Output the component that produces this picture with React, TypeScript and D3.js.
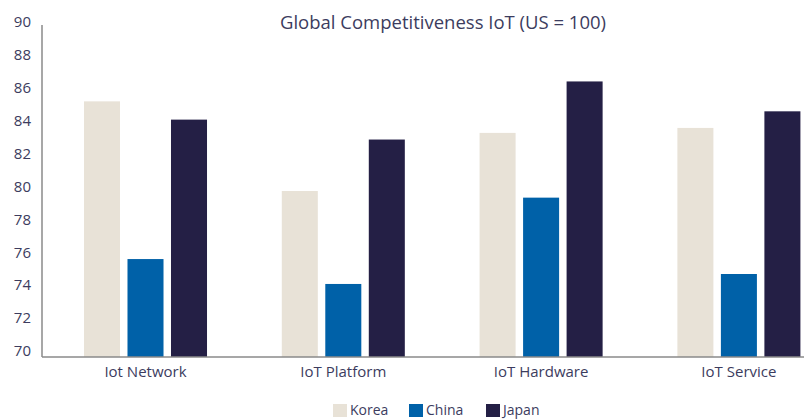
import React from "react";
import * as d3 from "d3";

const categories = ["Iot Network", "IoT Platform", "IoT Hardware", "IoT Service"];
const seriesNames = ["Korea", "China", "Japan"];
const korea = [85.4, 80.0, 83.5, 83.8];
const china = [75.9, 74.4, 79.6, 75.0];
const japan = [84.3, 83.1, 86.6, 84.8];
const yTicks = [70, 72, 74, 76, 78, 80, 82, 84, 86, 88, 90];
const colors = ["#E8E2D7", "#0061A8", "#241F45"];
const title = "Global Competitiveness IoT (US = 100)";

const W = 804;
const H = 420;
const FONT = "'Open Sans', 'Noto Sans', sans-serif";
const TEXT = "#3c3c5e";

export default function App() {
  const values = [korea, china, japan];
  const y = d3.scaleLinear().domain([70, 90]).range([357, 25]);
  const yLabel = y.copy().range([351, 22]);
  const x0 = d3
    .scaleBand<string>()
    .domain(categories)
    .range([46.6, 837.8])
    .paddingInner(0.378)
    .paddingOuter(0.189);
  const x1 = d3
    .scaleBand<string>()
    .domain(seriesNames)
    .range([0, x0.bandwidth()])
    .paddingInner(0.172)
    .paddingOuter(0);

  const legendX = [333, 409, 486];

  return (
    <svg
      width={W}
      height={H}
      style={{ position: "absolute", left: 0, top: 0, background: "#fff" }}
      fontFamily={FONT}
    >
      <text x={443} y={29} textAnchor="middle" fontSize={18.5} fill={TEXT}>
        {title}
      </text>
      {yTicks.map((t) => (
        <text
          key={t}
          x={31}
          y={yLabel(t)}
          dy="0.35em"
          textAnchor="end"
          fontSize={15}
          fill={TEXT}
        >
          {t}
        </text>
      ))}
      {categories.map((c, ci) => (
        <g key={c} transform={`translate(${x0(c)},0)`}>
          {seriesNames.map((s, si) => (
            <rect
              key={s}
              x={x1(s)}
              y={y(values[si][ci])}
              width={x1.bandwidth()}
              height={y(70) - y(values[si][ci])}
              fill={colors[si]}
            />
          ))}
          <text
            x={x0.bandwidth() / 2}
            y={372}
            dy="0.35em"
            textAnchor="middle"
            fontSize={15}
            fill={TEXT}
          >
            {c}
          </text>
        </g>
      ))}
      <line x1={42} x2={42} y1={y(90)} y2={y(70)} stroke="#8a8a8a" strokeWidth={1.5} />
      <line x1={42} x2={W} y1={y(70)} y2={y(70)} stroke="#8a8a8a" strokeWidth={1.5} />
      {seriesNames.map((s, i) => (
        <g key={s} transform={`translate(${legendX[i]},404)`}>
          <rect x={0} y={0} width={14} height={13} fill={colors[i]} />
          <text x={17} y={6.5} dy="0.35em" fontSize={14} fill={TEXT}>
            {s}
          </text>
        </g>
      ))}
    </svg>
  );
}
